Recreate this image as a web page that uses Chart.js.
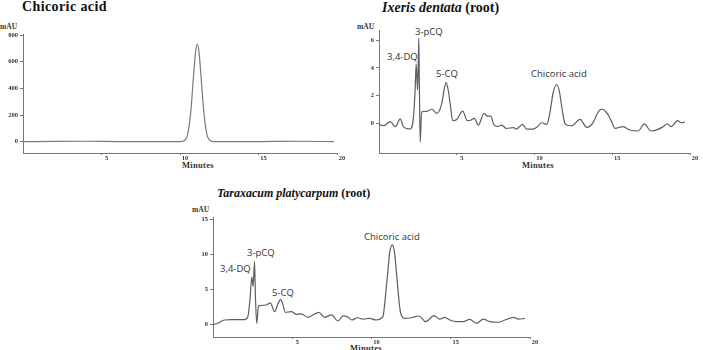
<!DOCTYPE html>
<html lang="en">
<head>
  <meta charset="UTF-8">
  <title>Chicoric acid HPLC chromatograms</title>
  <script src="https://cdn.jsdelivr.net/npm/chart.js"></script>
  <style>
    body {
      margin: 0;
      width: 703px;
      height: 350px;
      overflow: hidden;
      position: relative;
      background: #fff;
    }
    canvas { position: absolute; }
    .title {
      position: absolute;
      font-family: "Liberation Serif", serif;
      font-weight: bold;
      font-size: 12px;
      color: #111;
      white-space: nowrap;
    }
    .unit, .xname {
      position: absolute;
      font-family: "Liberation Serif", serif;
      font-weight: bold;
      font-size: 7.5px;
      color: #333;
      white-space: nowrap;
    }
    .xname { font-size: 8.5px; letter-spacing: 0.3px; }
    .peak {
      position: absolute;
      font-family: "Open Sans", sans-serif;
      font-size: 9.5px;
      color: #333;
      white-space: nowrap;
    }
  </style>
</head>
<body>
  <div class="title" style="left:22px; top:-1px; font-size:14px; letter-spacing:0.4px;">Chicoric acid</div>
  <div class="title" style="left:382px; top:0px; font-size:14px;"><i>Ixeris dentata</i> (root)</div>
  <div class="title" style="left:217px; top:186px;"><i>Taraxacum platycarpum</i> (root)</div>

  <div class="unit" style="left:0px; top:22px;">mAU</div>
  <div class="unit" style="left:357px; top:22px;">mAU</div>
  <div class="unit" style="left:192px; top:205px;">mAU</div>

  <div class="xname" style="left:182px; top:160px;">Minutes</div>
  <div class="xname" style="left:522px; top:160px;">Minutes</div>
  <div class="xname" style="left:350px; top:343px;">Minutes</div>

  <div class="peak" style="left:387px; top:50px;">3,4-DQ</div>
  <div class="peak" style="left:415px; top:25px;">3-pCQ</div>
  <div class="peak" style="left:436px; top:67px;">5-CQ</div>
  <div class="peak" style="left:531px; top:67px;">Chicoric acid</div>

  <div class="peak" style="left:220px; top:262px;">3,4-DQ</div>
  <div class="peak" style="left:247px; top:246px;">3-pCQ</div>
  <div class="peak" style="left:272px; top:286px;">5-CQ</div>
  <div class="peak" style="left:364px; top:230px;">Chicoric acid</div>

  <canvas id="stdChart" width="350" height="175" style="left:0px; top:0px;"></canvas>
  <canvas id="ixChart" width="353" height="175" style="left:350px; top:0px;"></canvas>
  <canvas id="taChart" width="400" height="175" style="left:160px; top:175px;"></canvas>

  <script>
    // Chicoric acid standard
    const stdTime = [0, 2, 4, 6, 8, 10, 10.3, 10.5, 10.7, 10.85, 11.0, 11.1, 11.2, 11.35, 11.5, 11.7, 11.9, 12.2, 14, 16, 18, 19.8];
    const stdSignal = [0, 2, 3, 1, 0, 0, 9, 62, 242, 476, 682, 730, 682, 476, 242, 62, 9, 0, 0, 2, 3, 0];
    const stdYTicks = [0, 200, 400, 600, 800];

    // Ixeris dentata (root)
    const ixTime = [0, 0.3, 0.73, 1.05, 1.37, 1.58, 2.0, 2.22, 2.33, 2.39, 2.48, 2.52, 2.56, 2.6, 2.65, 2.74,
      3.08, 3.4, 3.72, 4.04, 4.2, 4.32, 4.45, 4.6, 4.74, 5.0, 5.38, 5.68, 5.9, 6.13, 6.39, 6.75, 6.97, 7.18,
      7.4, 7.67, 7.88, 8.2, 8.63, 8.84, 9.23, 9.49, 9.9, 10.15, 10.47, 10.79, 11.0, 11.2, 11.43, 11.6, 11.75,
      11.9, 12.0, 12.39, 12.93, 13.36, 13.78, 14.0, 14.2, 14.4, 14.6, 14.74, 15.0, 15.17, 15.7, 16.13, 16.67,
      17.05, 17.5, 17.95, 18.27, 18.55, 18.8, 19.19, 19.45, 19.66];
    const ixSignal = [-0.1, -0.2, 0.1, -0.27, 0.3, -0.3, -0.44, 0.46, 2.6, 4.3, 2.4, 4.0, 6.15, 2.4, -1.4, 0.82,
      0.85, 1.0, 0.7, 1.43, 2.5, 2.93, 2.4, 1.2, 0.17, 0.25, 0.87, 0.17, 0.2, 0.34, -0.15, 0.7, 0.5, 0.5,
      -0.15, -0.25, -0.15, -0.4, -0.33, -0.44, -0.1, -0.44, -0.44, -0.3, 0.02, -0.1, 0.8, 2.2, 2.8, 2.3, 1.2,
      0.2, -0.1, -0.2, 0.27, -0.32, 0.05, 0.6, 0.95, 1.0, 0.8, 0.58, 0, -0.39, -0.27, -0.51, -0.58,
      -0.07, -0.58, -0.46, -0.27, -0.07, -0.27, 0.17, 0.02, 0.07];
    const ixYTicks = [0, 2, 4, 6];

    // Taraxacum platycarpum (root)
    const taTime = [0, 0.3, 0.72, 1.14, 1.98, 2.2, 2.34, 2.45, 2.53, 2.62, 2.68, 2.76, 2.87, 3.25, 3.63, 3.88,
      4.1, 4.26, 4.4, 4.56, 4.94, 5.25, 5.57, 5.99, 6.3, 6.67, 7.05, 7.47, 7.89, 8.2, 8.5, 8.76, 9.11, 9.47,
      9.87, 10.29, 10.72, 10.9, 11.03, 11.15, 11.31, 11.45, 11.56, 11.7, 11.82, 12.1, 12.51, 13.0, 13.42,
      13.95, 14.3, 14.62, 14.94, 15.36, 15.78, 16.2, 16.63, 17.05, 17.47, 18.0, 18.42, 18.99, 19.26, 19.68];
    const taSignal = [-0.1, 0.1, 0.58, 0.63, 0.63, 1.05, 3.7, 6.8, 5.4, 9.0, 3.7, 0.1, 2.6, 2.7, 3.0, 1.77,
      2.9, 3.55, 2.9, 1.68, 1.77, 1.4, 1.45, 0.96, 1.3, 1.68, 0.96, 1.3, 0.43, 1.16, 1.0, 0.58, 0.9, 0.7,
      0.82, 0.58, 1.05, 4.5, 7.5, 10.3, 11.4, 10.3, 7.8, 4.2, 1.8, 0.82, 0.9, 1.15, 0.34,
      1.2, 0.7, 0.96, 0.58, 0.34, 0.34, 0.67, 0.1, 0.7, 0.34, 0.25, 0.58, 0.96, 0.7, 0.8];
    const taYTicks = [0, 5, 10, 15];

    const xTicks = [5, 10, 15, 20];

    const tickFont = { family: 'Liberation Serif', size: 6.5, weight: 'bold' };

    function makeChart(id, times, signal, yTicks, box) {
      const points = times.map((t, i) => ({ x: t, y: signal[i] }));
      return new Chart(document.getElementById(id), {
        type: 'line',
        data: {
          datasets: [{
            data: points,
            borderColor: box.line,
            borderWidth: 1.2,
            pointRadius: 0,
            cubicInterpolationMode: 'monotone',
            fill: false
          }]
        },
        options: {
          responsive: false,
          animation: false,
          layout: { padding: { top: box.top, right: box.right, left: 0, bottom: 0 } },
          plugins: { legend: { display: false }, tooltip: { enabled: false } },
          scales: {
            x: {
              type: 'linear',
              min: 0,
              max: 20,
              afterBuildTicks: s => { s.ticks = xTicks.map(v => ({ value: v })); },
              afterFit: s => { s.height = box.xh; },
              grid: { drawOnChartArea: false, tickLength: 2, color: '#777' },
              border: { color: '#777', width: 1 },
              ticks: { font: tickFont, color: '#333', padding: -1, labelOffset: 5, maxRotation: 0, autoSkip: false }
            },
            y: {
              min: box.ymin,
              max: box.ymax,
              afterBuildTicks: s => { s.ticks = yTicks.map(v => ({ value: v })); },
              afterFit: s => { s.width = box.yw; },
              grid: { drawOnChartArea: false, tickLength: 3, color: '#777' },
              border: { color: '#777', width: 1 },
              ticks: { font: tickFont, color: '#333', padding: 2 }
            }
          }
        }
      });
    }

    makeChart('stdChart', stdTime, stdSignal, stdYTicks,
      { top: 34, right: 13, xh: 22, yw: 23, ymin: -85, ymax: 808, line: '#7a7a7a' });
    makeChart('ixChart', ixTime, ixSignal, ixYTicks,
      { top: 30, right: 13, xh: 22, yw: 29, ymin: -2.18, ymax: 6.76, line: '#5e5e5e' });
    makeChart('taChart', taTime, taSignal, taYTicks,
      { top: 42, right: 30, xh: 13, yw: 53, ymin: -1.87, ymax: 15.4, line: '#5e5e5e' });
  </script>
</body>
</html>
